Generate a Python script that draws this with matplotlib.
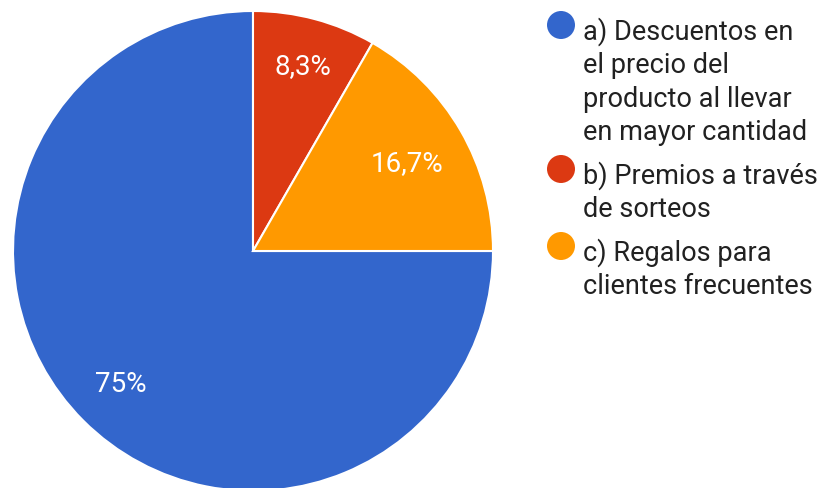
import matplotlib as mpl

mpl.use("Agg")
import matplotlib.pyplot as plt
import numpy as np
from matplotlib.patches import Circle

plt.rcParams["font.family"] = ["Roboto", "DejaVu Sans"]

# Survey answers and their shares (%)
labels = [
    "a) Descuentos en\nel precio del\nproducto al llevar\nen mayor cantidad",
    "b) Premios a través\nde sorteos",
    "c) Regalos para\nclientes frecuentes",
]
shares = [75.0, 8.3, 16.7]
share_text = ["75%", "8,3%", "16,7%"]
colors = ["#3366cc", "#dc3912", "#ff9900"]

W, H = 820, 489
cx, cy, r = 253, H - 252, 240
fig = plt.figure(figsize=(W / 100, H / 100), dpi=100)
ax = fig.add_axes([0, 0, 1, 1])

wedges, texts, autotexts = ax.pie(
    shares,
    colors=colors,
    startangle=0,
    counterclock=False,
    center=(cx, cy),
    radius=r,
    autopct="%1.1f%%",
    pctdistance=0.78,
    wedgeprops={"edgecolor": "white", "linewidth": 1.5},
    textprops={"color": "white", "fontsize": 20},
)

# percentage labels sit a little closer/farther from the center per slice
label_dist = [0.78, 0.80, 0.74]
for w, t, s, d in zip(wedges, autotexts, share_text, label_dist):
    mid = np.deg2rad((w.theta1 + w.theta2) / 2)
    t.set_position((cx + d * r * np.cos(mid), cy + d * r * np.sin(mid)))
    t.set_text(s)

ax.set_xlim(0, W)
ax.set_ylim(0, H)
ax.set_aspect("auto")
ax.axis("off")

# Legend on the right: colored dots and wrapped labels, one text per line
line_h = 33.5
gap = 10
y = 26
for lab, col in zip(labels, colors):
    ax.add_patch(Circle((561, H - y), 14, color=col, ec="none"))
    for i, line in enumerate(lab.split("\n")):
        ax.text(583, H - (y + 14 + i * line_h), line, fontsize=19.5,
                color="#212121", ha="left", va="baseline")
    y += (lab.count("\n") + 1) * line_h + gap

fig.savefig("out.png", dpi=100, facecolor="white")
plt.close(fig)
